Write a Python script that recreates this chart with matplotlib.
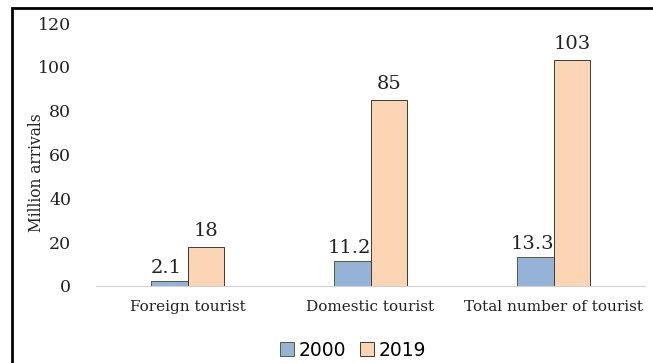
import matplotlib.pyplot as plt
import numpy as np
from matplotlib.patches import Rectangle

categories = ["Foreign tourist", "Domestic tourist", "Total number of tourist"]
years = ["2000", "2019"]
values_2000 = [2.1, 11.2, 13.3]
values_2019 = [18, 85, 103]
labels_2000 = ["2.1", "11.2", "13.3"]
labels_2019 = ["18", "85", "103"]

serif = ["DejaVu Serif"]

fig = plt.figure(figsize=(6.53, 3.63), dpi=100)
ax = fig.add_axes([96 / 653, 1 - 286 / 363, 549 / 653, 263 / 363])

x = np.arange(len(categories))
width = 0.2

bars_a = ax.bar(x - width / 2, values_2000, width, color="#95B3D7",
                edgecolor="#4F6228", linewidth=0.7, label=years[0])
bars_b = ax.bar(x + width / 2, values_2019, width, color="#FCD5B5",
                edgecolor="#3a3a3a", linewidth=0.7, label=years[1])

for bar, txt in zip(bars_a, labels_2000):
    ax.annotate(txt, (bar.get_x() + bar.get_width() / 2, bar.get_height()),
                xytext=(-3, 8), textcoords="offset pixels",
                ha="center", va="baseline", fontsize=14, family=serif, color="#222222")
for bar, txt in zip(bars_b, labels_2019):
    ax.annotate(txt, (bar.get_x() + bar.get_width() / 2, bar.get_height()),
                xytext=(0, 11), textcoords="offset pixels",
                ha="center", va="baseline", fontsize=14, family=serif, color="#222222")

ax.set_xlim(-0.5, 2.5)
ax.set_ylim(0, 120)
ax.set_yticks(range(0, 121, 20))
ax.set_yticklabels([str(v) for v in range(0, 121, 20)], family=serif, fontsize=12.5)
ax.set_xticks(x)
ax.set_xticklabels(categories, family=serif, fontsize=11)
ax.tick_params(axis="both", length=0, colors="#222222")
ax.tick_params(axis="x", pad=10)
ax.tick_params(axis="y", pad=18)

for side in ["top", "right", "left"]:
    ax.spines[side].set_visible(False)
ax.spines["bottom"].set_color("#d0d0d0")

ax.set_ylabel("Million arrivals", family=serif, fontsize=11.2, color="#222222")
ax.yaxis.set_label_coords(-0.092, 0.43)

ax.legend(loc="center", bbox_to_anchor=(353 / 653, 1 - 350 / 363),
          bbox_transform=fig.transFigure, ncol=2, frameon=False,
          prop={"family": "DejaVu Sans", "size": 13.5},
          handlelength=0.75, handleheight=0.75, handletextpad=0.25, columnspacing=0.7)

fig.patches.append(Rectangle((12 / 653, -0.05), 1.2, 1 - 8 / 363 + 0.05,
                             transform=fig.transFigure, fill=False,
                             edgecolor="black", linewidth=2))

fig.savefig("out.png", dpi=100)
